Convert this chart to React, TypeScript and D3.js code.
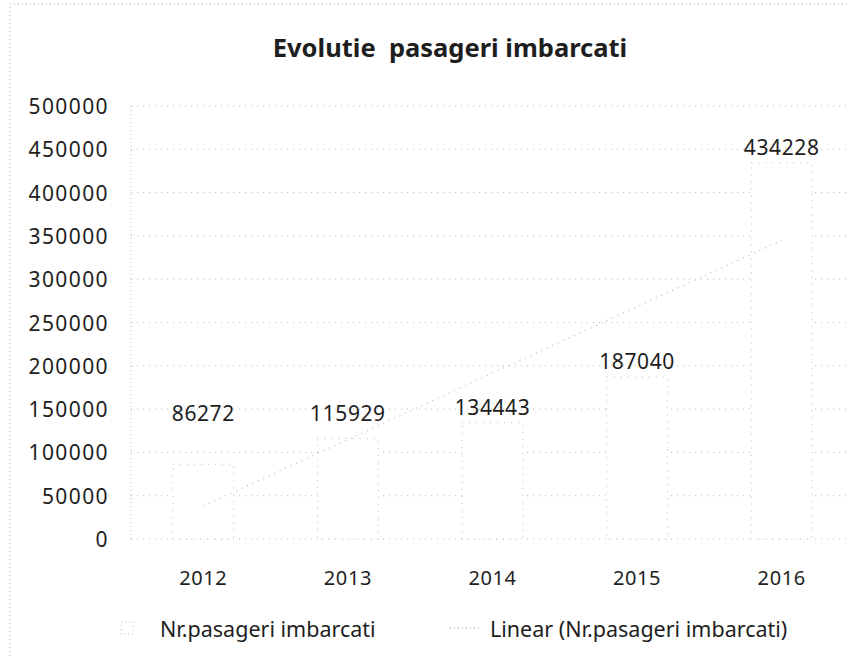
import React from 'react';
import * as d3 from 'd3';

const years = ['2012', '2013', '2014', '2015', '2016'];
const passengers = [86272, 115929, 134443, 187040, 434228];
const yTicks = [0, 50000, 100000, 150000, 200000, 250000, 300000, 350000, 400000, 450000, 500000];

const W = 848;
const H = 658;
const margin = { top: 106, right: -6, bottom: 119, left: 131 };
const font = '"Noto Sans", sans-serif';
const ink = '#1e1e1e';

export default function App() {
  const innerW = W - margin.left - margin.right;
  const innerH = H - margin.top - margin.bottom;

  const x = d3.scaleBand().domain(years).range([0, innerW]).paddingInner(0.58).paddingOuter(0.29);
  const y = d3.scaleLinear().domain([0, 500000]).range([innerH, 0]);

  // linear trendline (least squares over category index)
  const idx = years.map((_, i) => i + 1);
  const mx = d3.mean(idx) as number;
  const my = d3.mean(passengers) as number;
  const slope = d3.sum(idx, (v, i) => (v - mx) * (passengers[i] - my)) / d3.sum(idx, (v) => (v - mx) ** 2);
  const icpt = my - slope * mx;
  const cx = (yr: string) => (x(yr) as number) + x.bandwidth() / 2;
  const trend = d3.line<string>()
    .x((yr) => cx(yr))
    .y((yr, i) => y(icpt + slope * (i + 1)));

  return (
    <svg width={W} height={H} style={{ position: 'absolute', left: 0, top: 0, background: '#fff' }}>
      <rect x={10} y={4} width={W + 10} height={H + 10} fill="none" stroke="#9a9a9a" strokeWidth={0.8} strokeDasharray="1 3" />

      <text x={450} y={47} textAnchor="middle" dominantBaseline="central" fontFamily={font} fontWeight="bold" fontSize={25.5} fill={ink}>
        {'Evolutie\u00a0 pasageri imbarcati'}
      </text>

      <g transform={`translate(${margin.left},${margin.top})`}>
        {yTicks.map((t) => (
          <g key={t}>
            <line x1={0} x2={innerW} y1={y(t)} y2={y(t)} stroke="#a8a8a8" strokeWidth={0.8} strokeDasharray="1 5" />
            <text x={-22} y={y(t)} textAnchor="end" dominantBaseline="central" fontFamily={font} fontSize={21} letterSpacing={1.4} fill={ink}>
              {t}
            </text>
          </g>
        ))}
        <line x1={0} x2={0} y1={0} y2={innerH} stroke="#a0a0a0" strokeWidth={0.8} strokeDasharray="1 3" />

        {years.map((yr, i) => (
          <rect key={yr} x={x(yr)} y={y(passengers[i])} width={x.bandwidth()} height={innerH - y(passengers[i])}
            fill="#fff" stroke="#a4a4a4" strokeWidth={0.8} strokeDasharray="1 6" />
        ))}

        <path d={trend(years) || ''} fill="none" stroke="#a4a4a4" strokeWidth={1} strokeDasharray="1 5" />

        {years.map((yr, i) => (
          <text key={yr} x={cx(yr)} y={Math.min(y(passengers[i]) - 16, y(145000))} textAnchor="middle" dominantBaseline="central"
            fontFamily={font} fontSize={21} letterSpacing={0.6} fill={ink}>
            {passengers[i]}
          </text>
        ))}

        {years.map((yr) => (
          <text key={yr} x={cx(yr)} y={innerH + 38} textAnchor="middle" dominantBaseline="central" fontFamily={font} fontSize={20} letterSpacing={0.6} fill={ink}>
            {yr}
          </text>
        ))}
      </g>

      {/* legend */}
      <g transform="translate(0,628)">
        <rect x={121} y={-6} width={12} height={12} fill="#fff" stroke="#b0b0b0" strokeWidth={0.8} strokeDasharray="1 3" />
        <text x={160} y={0} dominantBaseline="central" fontFamily={font} fontSize={21.5} fill={ink}>Nr.pasageri imbarcati</text>
        <line x1={450} x2={481} y1={0} y2={0} stroke="#9a9a9a" strokeWidth={1} strokeDasharray="1 3" />
        <text x={490} y={0} dominantBaseline="central" fontFamily={font} fontSize={21.5} fill={ink}>Linear (Nr.pasageri imbarcati)</text>
      </g>
    </svg>
  );
}
